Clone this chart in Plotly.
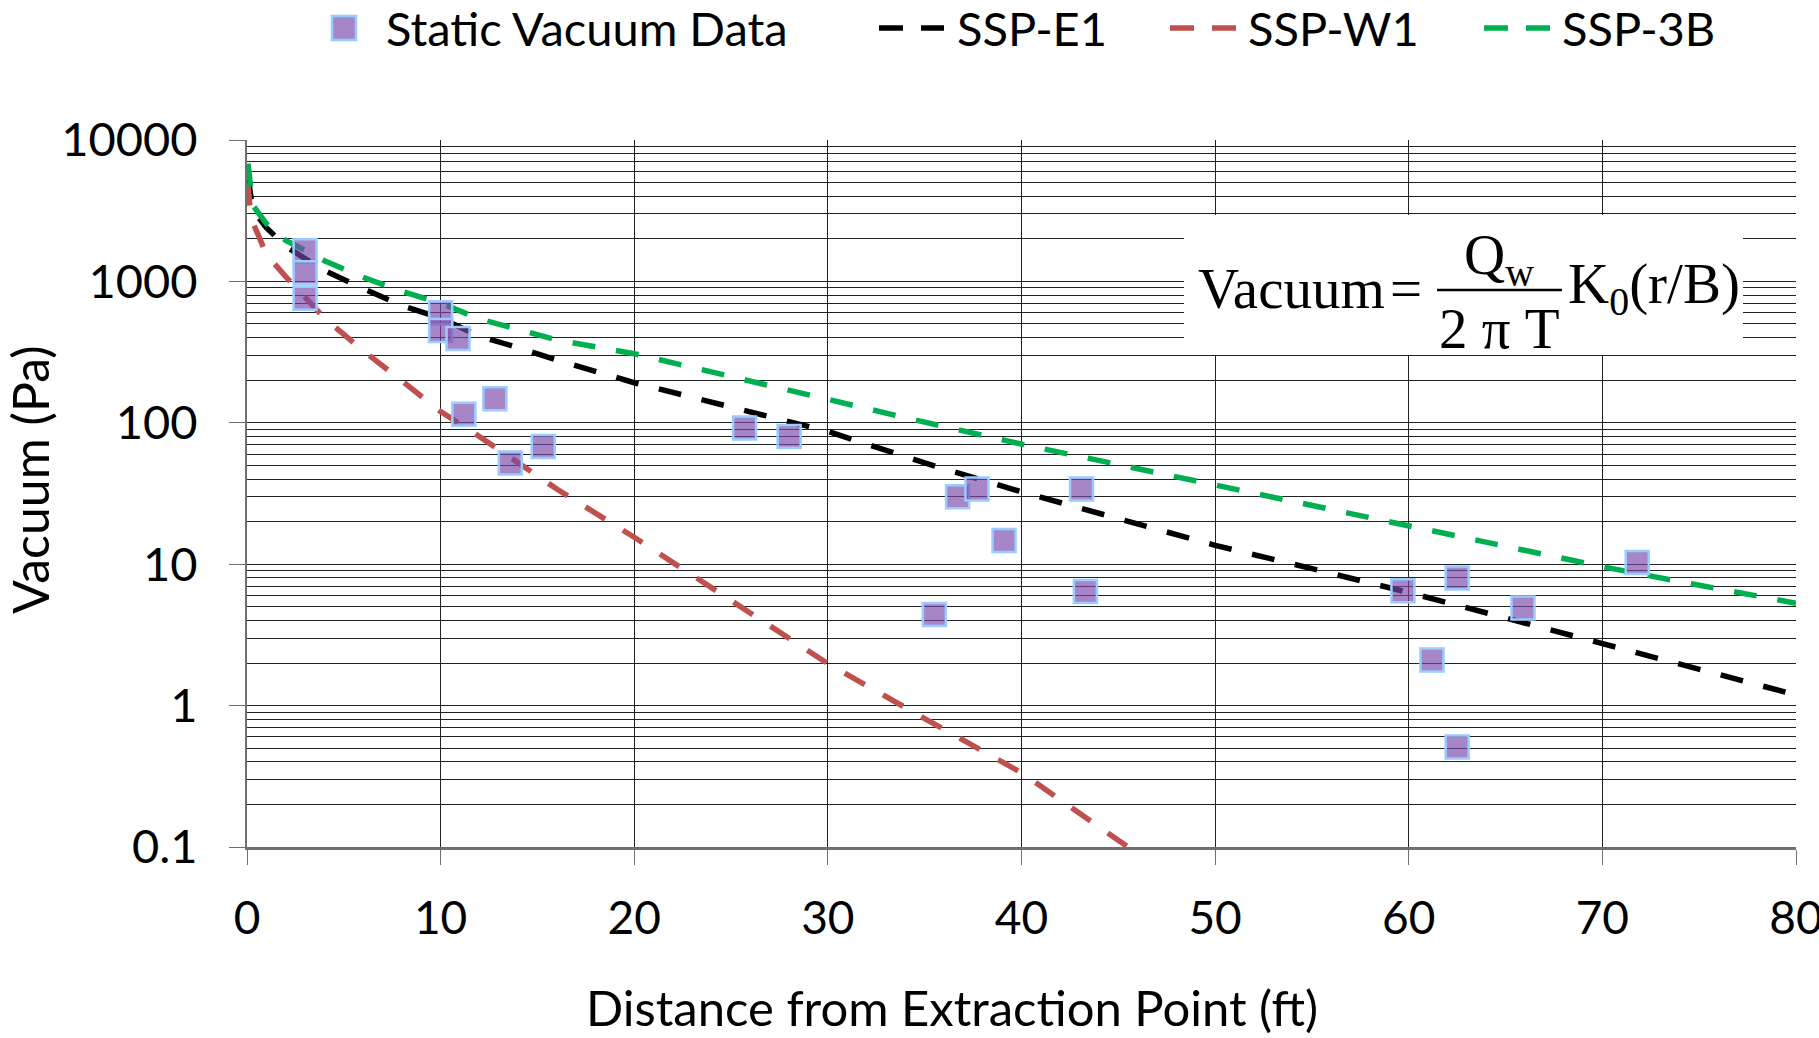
import plotly.graph_objects as go

# ---------------- data ----------------
obs_x = [3.0, 3.0, 3.0, 10.0, 10.0, 10.9, 11.2, 12.8, 13.6, 15.3, 25.7, 28.0,
         36.7, 37.7, 39.1, 43.1, 43.3, 35.5, 59.7, 62.5, 65.9, 61.2, 62.5, 71.8]
obs_y = [1650, 1150, 760, 600, 450, 395, 115, 148, 52, 68, 92, 80,
         30, 34, 14.7, 34, 6.4, 4.4, 6.5, 8.0, 4.9, 2.1, 0.51, 10.3]

e1_x = [0.05, 0.3, 1, 2, 3, 4, 6, 8, 10, 12, 14, 16, 20, 25, 30, 35, 40, 45, 50, 55, 60, 65, 70, 75, 80]
e1_y = [5500, 3200, 2400, 1770, 1450, 1195, 890, 673, 551, 410, 340, 278, 192, 129, 87, 52, 32.5, 21, 13.6, 9.3, 6.3, 4.17, 2.75, 1.81, 1.19]

w1_x = [0.05, 0.2, 0.6, 1, 2, 3, 4, 5, 6, 8, 10, 12, 14, 16, 20, 25, 30, 35, 40, 45.5]
w1_y = [5000, 2800, 2100, 1550, 1080, 760, 550, 422, 323, 198, 120, 80, 52.7, 34, 15.5, 5.5, 1.98, 0.81, 0.335, 0.1]

b3_x = [0.05, 0.3, 1, 2, 3, 4, 6, 8, 10, 12, 14, 16, 20, 25, 30, 35, 40, 45, 50, 55, 60, 65, 70, 75, 80]
b3_y = [6800, 3450, 2560, 1950, 1660, 1400, 1070, 850, 703, 543, 457, 385, 308, 211, 145, 101, 70.6, 50.7, 36.5, 26.2, 18.7, 13.4, 9.6, 7.1, 5.3]

y_tickvals = [0.1, 1, 10, 100, 1000, 10000]
y_ticktext = ["0.1", "1", "10", "100", "1000", "10000"]
x_tickvals = [0, 10, 20, 30, 40, 50, 60, 70, 80]

series_names = ["Static Vacuum Data", "SSP-E1", "SSP-W1", "SSP-3B"]
line_colors = ["#000000", "#C0504D", "#00B050"]

# ---------------- layout geometry ----------------
W, H = 1819, 1038
L, R, T, B = 247, 23, 140, 191
PW, PH = W - L - R, H - T - B


def px(x):
    return (x - L) / PW


def py(y):
    return (H - B - y) / PH


FONT = "Lato"
DASH = "23px,21px"
LW = 5.5
MARK_FILL = "rgba(122,72,170,0.66)"
MARK_LINE = "#99CCFF"

fig = go.Figure()
for nm, xs, ys, col in zip(series_names[1:], [e1_x, w1_x, b3_x], [e1_y, w1_y, b3_y], line_colors):
    fig.add_trace(go.Scatter(x=xs, y=ys, mode="lines", name=nm, showlegend=False,
                             line=dict(color=col, width=LW, dash=DASH)))
fig.add_trace(go.Scatter(x=obs_x, y=obs_y, mode="markers", name=series_names[0], showlegend=False,
                         marker=dict(symbol="square", size=23, color=MARK_FILL,
                                     line=dict(color=MARK_LINE, width=2.5))))

grid_col = "#222222"
fig.update_xaxes(range=[0, 80], tickvals=x_tickvals, showgrid=True, gridcolor=grid_col, gridwidth=1.2,
                 showline=True, linecolor="#707070", linewidth=2.5, zeroline=False,
                 ticks="outside", ticklen=15, tickcolor="#707070", tickwidth=1.2,
                 ticklabelstandoff=14, ticklabeloverflow="allow",
                 tickfont=dict(family=FONT, size=46, color="#000000"))
fig.update_yaxes(type="log", range=[-1, 4], tickvals=y_tickvals, ticktext=y_ticktext,
                 showgrid=True, gridcolor=grid_col, gridwidth=1.2,
                 minor=dict(dtick="D1", showgrid=True, gridcolor=grid_col, gridwidth=1.2, ticks=""),
                 showline=True, linecolor="#707070", linewidth=2, zeroline=False,
                 ticks="outside", ticklen=16, tickcolor="#707070", tickwidth=1.2,
                 ticklabelstandoff=22,
                 tickfont=dict(family=FONT, size=47, color="#000000"))

# axis titles
fig.add_annotation(text="Distance from Extraction Point (ft)", xref="paper", yref="paper",
                   x=px(952), y=py(1007), xanchor="center", yanchor="middle", showarrow=False,
                   font=dict(family=FONT, size=49, color="black"))
fig.add_annotation(text="Vacuum (Pa)", xref="paper", yref="paper", textangle=-90,
                   x=px(30), y=py(480), xanchor="center", yanchor="middle", showarrow=False,
                   font=dict(family=FONT, size=50, color="black"))

# formula box
fig.add_shape(type="rect", xref="paper", yref="paper", x0=px(1184), x1=px(1743), y0=py(355), y1=py(215),
              fillcolor="white", line=dict(width=0), layer="above")
fig.add_shape(type="line", xref="paper", yref="paper", x0=px(1437), x1=px(1562), y0=py(290), y1=py(290),
              line=dict(color="black", width=2.5), layer="above")
SERIF = "Liberation Serif"
fsz = 57
fig.add_annotation(text="Vacuum", xref="paper", yref="paper", x=px(1196), y=py(288),
                   xanchor="left", yanchor="middle", showarrow=False,
                   font=dict(family=SERIF, size=fsz, color="black"))
fig.add_annotation(text="=", xref="paper", yref="paper", x=px(1406), y=py(288),
                   xanchor="center", yanchor="middle", showarrow=False,
                   font=dict(family=SERIF, size=fsz, color="black"))
fig.add_annotation(text="Q<sub>w</sub>", xref="paper", yref="paper", x=px(1499), y=py(259),
                   xanchor="center", yanchor="middle", showarrow=False,
                   font=dict(family=SERIF, size=fsz, color="black"))
fig.add_annotation(text="2 π T", xref="paper", yref="paper", x=px(1499), y=py(328),
                   xanchor="center", yanchor="middle", showarrow=False,
                   font=dict(family=SERIF, size=fsz, color="black"))
fig.add_annotation(text="K<sub>0</sub>(r/B)", xref="paper", yref="paper", x=px(1566), y=py(288),
                   xanchor="left", yanchor="middle", showarrow=False,
                   font=dict(family=SERIF, size=fsz, color="black"))

# legend (drawn as symbols + text above the plot)
LEG_Y = 28
fig.add_shape(type="rect", xref="paper", yref="paper", x0=px(332), x1=px(356),
              y0=py(LEG_Y + 12), y1=py(LEG_Y - 12),
              fillcolor=MARK_FILL, line=dict(color=MARK_LINE, width=2.5))
fig.add_annotation(text=series_names[0], xref="paper", yref="paper", x=px(384), y=py(LEG_Y),
                   xanchor="left", yanchor="middle", showarrow=False,
                   font=dict(family=FONT, size=47, color="black"))
leg_line_x = [(879, 944), (1170, 1237), (1484, 1550)]
leg_text_x = [955, 1246, 1560]
for nm, col, (a, b), tx in zip(series_names[1:], line_colors, leg_line_x, leg_text_x):
    fig.add_shape(type="line", xref="paper", yref="paper", x0=px(a), x1=px(b), y0=py(LEG_Y), y1=py(LEG_Y),
                  line=dict(color=col, width=LW, dash="24px,18px"))
    fig.add_annotation(text=nm, xref="paper", yref="paper", x=px(tx), y=py(LEG_Y),
                       xanchor="left", yanchor="middle", showarrow=False,
                       font=dict(family=FONT, size=47, color="black"))

fig.update_layout(
    width=W, height=H,
    margin=dict(l=L, r=R, t=T, b=B, autoexpand=False),
    paper_bgcolor="white", plot_bgcolor="white",
    showlegend=False,
)

fig.write_html("out.html")
